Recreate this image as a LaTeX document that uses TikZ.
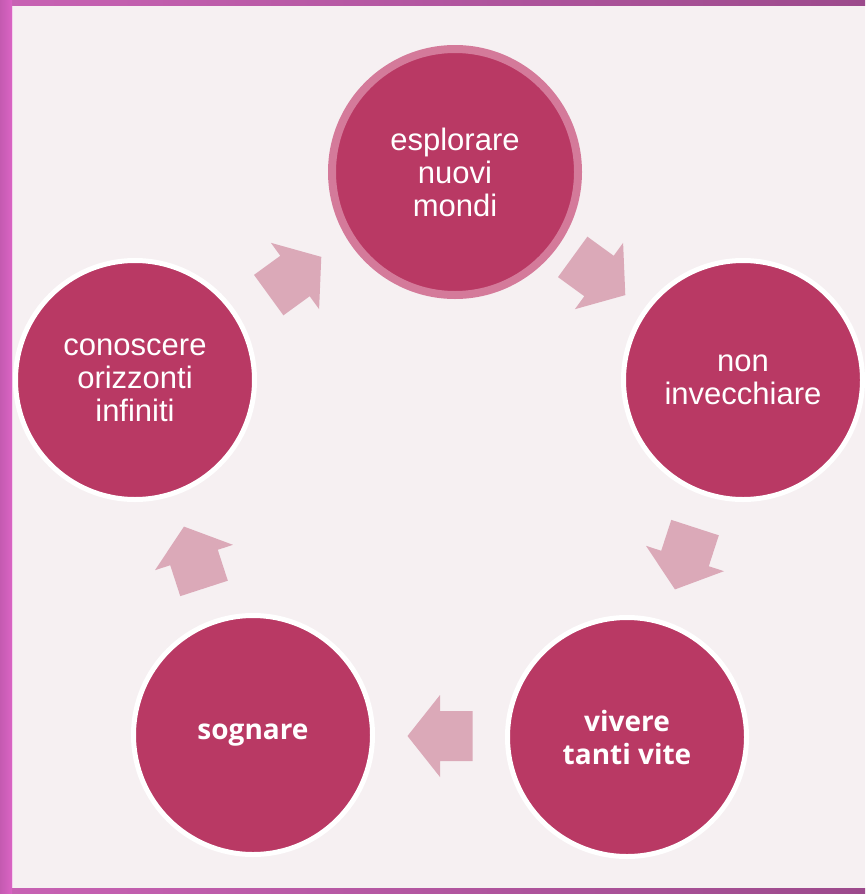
\documentclass[tikz,border=0pt]{standalone}
\usepackage{fontspec}
\setmainfont{Liberation Sans}
\newfontfamily\osans{Open Sans}
\usetikzlibrary{calc}
\definecolor{bgc}{HTML}{F6F0F2}
\definecolor{framec}{HTML}{DA64C4}
\definecolor{topc}{HTML}{C862B4}
\definecolor{topd}{HTML}{9C4A8C}
\definecolor{crim}{HTML}{B93964}
\definecolor{ringp}{HTML}{D47A9A}
\definecolor{arrc}{HTML}{DBA9B8}
\tikzset{
  bub/.style={circle, fill=crim, draw=white, line width=5pt, minimum size=239pt,
    inner sep=0pt, text=white, align=center,
    font=\fontsize{31pt}{33pt}\selectfont},
  bubtop/.style={bub, draw=ringp, line width=8pt, minimum size=246pt},
  bubb/.style={bub, font=\osans\bfseries\fontsize{28pt}{33pt}\selectfont},
  blk/.style={fill=arrc},
}
\begin{document}
\begin{tikzpicture}[x=1pt,y=-1pt]
\useasboundingbox (0,0) rectangle (865,894);
\fill[bgc] (0,0) rectangle (865,894);
\shade[left color=topc, right color=topd] (0,0) rectangle (865,5);
\shade[left color=topc, right color=topd] (0,888) rectangle (865,894);
\shade[left color=framec!90!black, right color=framec] (0,0) rectangle (12,894);
\draw[framec!30!white, line width=1pt] (12.5,5.5) -- (12.5,887.5);

\node[bubtop] (esp) at (455,172) {esplorare\\nuovi\\mondi};
\node[bub] (inv) at (743,380) {non\\invecchiare};
\node[bubb] (viv) at (627,737) {vivere\\tanti vite};
\node[bubb] (sog) at (253,735) {sognare};
\node[bub] (con) at (135,380) {conoscere\\orizzonti\\infiniti};

\fill[blk, shift={($(esp)!0.5!(inv)$)}, rotate=-36]
  (-32.5,-25) -- (0,-25) -- (0,-41) -- (32.5,0) -- (0,41) -- (0,25) -- (-32.5,25) -- cycle;
\fill[blk, shift={($(inv)!0.5!(viv)$)}, rotate=-108]
  (-32.5,-25) -- (0,-25) -- (0,-41) -- (32.5,0) -- (0,41) -- (0,25) -- (-32.5,25) -- cycle;
\fill[blk, shift={($(viv)!0.5!(sog)$)}, rotate=-180]
  (-32.5,-25) -- (0,-25) -- (0,-41) -- (32.5,0) -- (0,41) -- (0,25) -- (-32.5,25) -- cycle;
\fill[blk, shift={($(sog)!0.5!(con)$)}, rotate=-252]
  (-32.5,-25) -- (0,-25) -- (0,-41) -- (32.5,0) -- (0,41) -- (0,25) -- (-32.5,25) -- cycle;
\fill[blk, shift={($(con)!0.5!(esp)$)}, rotate=-324]
  (-32.5,-25) -- (0,-25) -- (0,-41) -- (32.5,0) -- (0,41) -- (0,25) -- (-32.5,25) -- cycle;
\end{tikzpicture}
\end{document}
